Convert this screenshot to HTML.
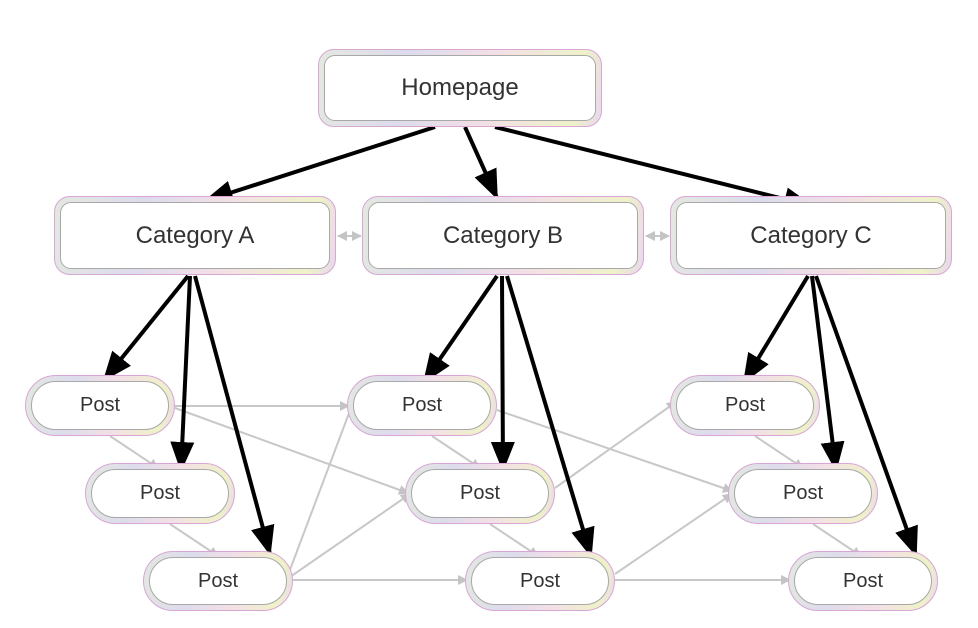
<!DOCTYPE html>
<html><head><style>
body{margin:0;width:978px;height:628px;background:#fff;position:relative;overflow:hidden;font-family:"Liberation Sans","DejaVu Sans",sans-serif;}
.n{position:absolute;box-sizing:border-box;padding:5px;border:1.5px solid #d9a6d6;background:linear-gradient(100deg,#e4e8e0,#dcdcec 30%,#f3dfe6 60%,#eef2c8 90%,#e8d8ec);}
.n div{box-sizing:border-box;width:100%;height:100%;background:#fff;border:1.5px solid #a8a8a8;display:flex;align-items:center;justify-content:center;color:#333;}
.b{border-radius:16px}.b div{border-radius:11px;font-size:24px}
.p{border-radius:31px}.p div{border-radius:25px;font-size:20px}
svg{position:absolute;left:0;top:0}
</style></head><body>
<svg width="978" height="628">
<defs>
<marker id="k" markerWidth="30" markerHeight="24" refX="28" refY="12" orient="auto" markerUnits="userSpaceOnUse" viewBox="0 0 30 24"><path d="M0,0L30,12L0,24z" fill="#000"/></marker>
<marker id="g" markerWidth="10" markerHeight="10" refX="9" refY="5" orient="auto-start-reverse" markerUnits="userSpaceOnUse" viewBox="0 0 10 10"><path d="M0,0L10,5L0,10z" fill="#c4c4c4"/></marker>
</defs>
<g stroke="#c8c8c8" stroke-width="2" fill="none" marker-end="url(#g)">
<line x1="175" y1="406" x2="349" y2="406"/>
<line x1="175" y1="408" x2="408" y2="493"/>
<line x1="110" y1="436" x2="158" y2="468"/>
<line x1="170" y1="524" x2="218" y2="556"/>
<line x1="293" y1="580" x2="467" y2="580"/>
<line x1="288" y1="575" x2="354" y2="400"/>
<line x1="290" y1="577" x2="410" y2="494"/>
<line x1="432" y1="436" x2="480" y2="468"/>
<line x1="490" y1="524" x2="538" y2="556"/>
<line x1="555" y1="488" x2="676" y2="402"/>
<line x1="497" y1="410" x2="732" y2="491"/>
<line x1="615" y1="574" x2="732" y2="494"/>
<line x1="615" y1="580" x2="790" y2="580"/>
<line x1="755" y1="436" x2="803" y2="468"/>
<line x1="813" y1="524" x2="861" y2="556"/>
<line x1="338" y1="236" x2="361" y2="236" marker-start="url(#g)"/>
<line x1="646" y1="236" x2="669" y2="236" marker-start="url(#g)"/>
</g>
<g stroke="#000" stroke-width="4" fill="none" marker-end="url(#k)">
<line x1="435" y1="127" x2="205" y2="201"/>
<line x1="465" y1="127" x2="497" y2="198"/>
<line x1="495" y1="127" x2="812" y2="206"/>
<line x1="188" y1="276" x2="104" y2="380"/>
<line x1="190" y1="276" x2="181" y2="470"/>
<line x1="195" y1="276" x2="270" y2="554"/>
<line x1="497" y1="276" x2="424" y2="382"/>
<line x1="502" y1="276" x2="503" y2="470"/>
<line x1="507" y1="276" x2="591" y2="556"/>
<line x1="808" y1="276" x2="744" y2="382"/>
<line x1="812" y1="276" x2="836" y2="470"/>
<line x1="816" y1="276" x2="916" y2="555"/>
</g>
</svg>
<div class="n b" style="left:318px;top:49px;width:284px;height:78px"><div>Homepage</div></div>
<div class="n b" style="left:54px;top:196px;width:282px;height:79px"><div>Category A</div></div>
<div class="n b" style="left:362px;top:196px;width:282px;height:79px"><div>Category B</div></div>
<div class="n b" style="left:670px;top:196px;width:282px;height:79px"><div>Category C</div></div>
<div class="n p" style="left:25px;top:375px;width:150px;height:61px"><div>Post</div></div>
<div class="n p" style="left:85px;top:463px;width:150px;height:61px"><div>Post</div></div>
<div class="n p" style="left:143px;top:551px;width:150px;height:60px"><div>Post</div></div>
<div class="n p" style="left:347px;top:375px;width:150px;height:61px"><div>Post</div></div>
<div class="n p" style="left:405px;top:463px;width:150px;height:61px"><div>Post</div></div>
<div class="n p" style="left:465px;top:551px;width:150px;height:60px"><div>Post</div></div>
<div class="n p" style="left:670px;top:375px;width:150px;height:61px"><div>Post</div></div>
<div class="n p" style="left:728px;top:463px;width:150px;height:61px"><div>Post</div></div>
<div class="n p" style="left:788px;top:551px;width:150px;height:60px"><div>Post</div></div>
</body></html>
